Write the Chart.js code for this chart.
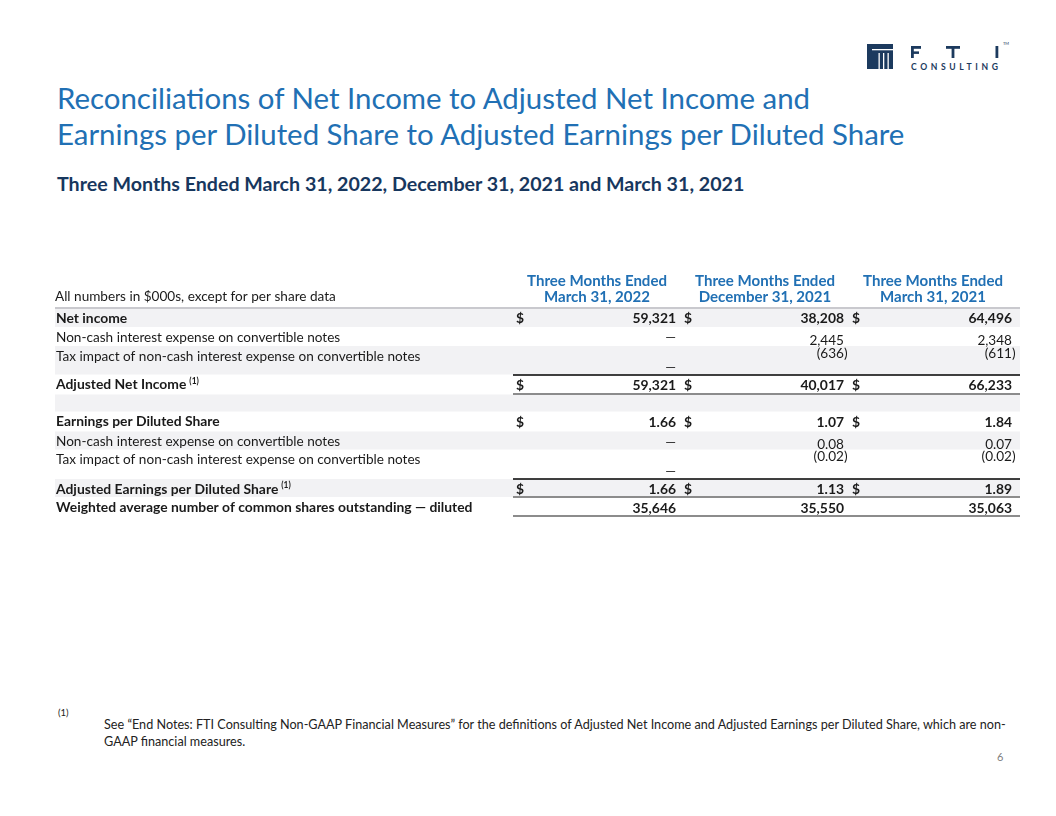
<!DOCTYPE html>
<html>
<head>
<meta charset="utf-8">
<script src="https://cdn.jsdelivr.net/npm/chart.js@4.4.1/dist/chart.umd.min.js"></script>
<style>
  html, body { margin: 0; padding: 0; background: #fff; }
  body { width: 1056px; height: 816px; position: relative; overflow: hidden; font-family: Lato, "Open Sans", sans-serif; }
  .abs { position: absolute; white-space: nowrap; }
  #t1, #t2 { color: #2170b4; }
  #sub { color: #17375e; }
  #fnMark, #fn1, #fn2 { color: #222; transform-origin: 0 50%; }
  #page { color: #808080; }
  #logo { position: absolute; left: 860px; top: 36px; }
  #table { position: absolute; left: 0; top: 265px; }
</style>
</head>
<body>

<svg id="logo" width="160" height="42" viewBox="0 0 160 42">
  <rect x="7" y="8" width="26" height="25" fill="#1c3a5e"/>
  <rect x="12" y="13" width="21" height="1.3" fill="#fff"/>
  <rect x="18.5" y="17" width="1.3" height="16" fill="#fff"/>
  <rect x="23" y="17" width="1.3" height="16" fill="#fff"/>
  <rect x="27.5" y="17" width="1.3" height="16" fill="#fff"/>
  <rect x="51" y="10" width="2.8" height="12" fill="#1c3a5e"/>
  <rect x="51" y="10" width="10" height="2.8" fill="#1c3a5e"/>
  <rect x="51" y="15.4" width="8" height="2.5" fill="#1c3a5e"/>
  <rect x="86" y="10" width="14" height="2.8" fill="#1c3a5e"/>
  <rect x="91.6" y="10" width="2.8" height="12" fill="#1c3a5e"/>
  <rect x="135.5" y="10" width="2.8" height="12" fill="#1c3a5e"/>
  <text x="51" y="34" font-family="Lato, sans-serif" font-weight="700" font-size="8.6" fill="#1c3a5e" textLength="87" lengthAdjust="spacing">CONSULTING</text>
  <text x="143" y="9" font-family="Lato, sans-serif" font-size="4" fill="#1c3a5e">TM</text>
</svg>

<div id="t1" class="abs">Reconciliations of Net Income to Adjusted Net Income and</div>
<div id="t2" class="abs">Earnings per Diluted Share to Adjusted Earnings per Diluted Share</div>
<div id="sub" class="abs">Three Months Ended March 31, 2022, December 31, 2021 and March 31, 2021</div>

<canvas id="table" width="1056" height="260"></canvas>

<div id="fnMark" class="abs">(1)</div>
<div id="fn1" class="abs">See “End Notes: FTI Consulting Non-GAAP Financial Measures” for the definitions of Adjusted Net Income and Adjusted Earnings per Diluted Share, which are non-</div>
<div id="fn2" class="abs">GAAP financial measures.</div>
<div id="page" class="abs">6</div>

<script>
// table data
const rowLabels = [
  "Net income",
  "Non-cash interest expense on convertible notes",
  "Tax impact of non-cash interest expense on convertible notes",
  "Adjusted Net Income",
  "",
  "Earnings per Diluted Share",
  "Non-cash interest expense on convertible notes",
  "Tax impact of non-cash interest expense on convertible notes",
  "Adjusted Earnings per Diluted Share",
  "Weighted average number of common shares outstanding — diluted"
];
const periodHead = ["Three Months Ended", "Three Months Ended", "Three Months Ended"];
const periodDate = ["March 31, 2022", "December 31, 2021", "March 31, 2021"];
const mar2022 = [59321, 0, 0, 59321, null, 1.66, 0, 0, 1.66, 35646];
const dec2021 = [38208, 2445, -636, 40017, null, 1.07, 0.08, -0.02, 1.13, 35550];
const mar2021 = [64496, 2348, -611, 66233, null, 1.84, 0.07, -0.02, 1.89, 35063];
const boldRows = [0, 3, 5, 8, 9];
const dollarRows = [0, 3, 5, 8];
const perShareRows = [5, 6, 7, 8];
const noteRows = [3, 8];
const unitsNote = "All numbers in $000s, except for per share data";

// layout
const FAMILY = 'Lato, "Open Sans", sans-serif';
const INK = "#1a1a1a";
const BLUE = "#2170b4";
const rowSpan = [1, 1, 1.5, 1.05, 0.9, 1.05, 0.95, 1.55, 0.95, 1];
const shadedRows = [0, 2, 4, 6, 8];
const rowTop = [];
let acc = 0;
rowSpan.forEach(s => { rowTop.push(acc); acc += s; });

const UNIT = 19, CANVAS_TOP = 265, CANVAS_H = 260, RULE_Y = 308;
const COL1 = 597, COL_STEP = 168, CANVAS_W = 1056;
const LEFT = 55, RIGHT = 1020;
const yMin = -(RULE_Y - CANVAS_TOP) / UNIT;
const yMax = yMin + CANVAS_H / UNIT;
const xMin = 1 - COL1 / COL_STEP;
const xMax = xMin + CANVAS_W / COL_STEP;

const measure = document.createElement("canvas").getContext("2d");
function fitSize(text, weight, width) {
  measure.font = `${weight} 100px ${FAMILY}`;
  return 100 * width / measure.measureText(text).width;
}
function font(weight, size) {
  return `${weight} ${size}px ${FAMILY}`;
}

const F = {
  body: fitSize(rowLabels[2], 400, 365),
  bold: fitSize(rowLabels[9], 700, 417),
  head: fitSize(periodHead[0], 700, 140)
};

// html text placed by baseline
function place(id, weight, size, left, baseline, width) {
  const el = document.getElementById(id);
  measure.font = font(weight, size);
  const m = measure.measureText(el.textContent);
  const asc = m.fontBoundingBoxAscent, desc = m.fontBoundingBoxDescent;
  el.style.fontSize = size + "px";
  el.style.fontWeight = weight;
  el.style.lineHeight = (asc + desc) + "px";
  el.style.left = left + "px";
  el.style.top = (baseline - asc) + "px";
  if (width) el.style.transform = `scaleX(${width / m.width})`;
}
const titleSize = fitSize(document.getElementById("t2").textContent, 400, 850);
place("t1", 400, titleSize, 57, 109);
place("t2", 400, titleSize, 57, 145);
place("sub", 700, fitSize(document.getElementById("sub").textContent, 700, 688), 57, 191);
// footnote is set condensed, like the slide
place("fn1", 400, 13.6, 104, 729, 904);
const fnScale = 904 / (measure.font = font(400, 13.6), measure.measureText(document.getElementById("fn1").textContent).width);
place("fn2", 400, 13.6, 104, 746);
document.getElementById("fn2").style.transform = `scaleX(${fnScale})`;
place("fnMark", 400, 9.5, 58, 716);
place("page", 400, 11, 997, 761);

function fmt(v, row) {
  if (v === 0) return "—";
  const dec = perShareRows.includes(row) ? 2 : 0;
  const s = Math.abs(v).toLocaleString("en-US", { minimumFractionDigits: dec, maximumFractionDigits: dec });
  return v < 0 ? "(" + s : s;
}

// where a value sits inside its row
function cellOffset(row, v) {
  if (row === 2 || row === 7) return v === 0 ? 1.16 : 0.38;
  if (row === 1 || row === 6) return v === 0 ? 0.58 : 0.7;
  return 0.58;
}

const series = [mar2022, dec2021, mar2021];

const tablePlugin = {
  id: "reconTable",
  beforeDatasetsDraw(chart) {
    const { ctx, scales: { y } } = chart;
    ctx.save();
    ctx.fillStyle = "#f2f2f4";
    shadedRows.forEach(i => {
      const top = y.getPixelForValue(rowTop[i]);
      const bot = y.getPixelForValue(rowTop[i] + rowSpan[i]);
      ctx.fillRect(LEFT, top, RIGHT - LEFT, bot - top);
    });
    ctx.restore();
  },
  afterDatasetsDraw(chart) {
    const { ctx, scales: { x, y } } = chart;
    ctx.save();
    ctx.textBaseline = "middle";

    // column headers
    ctx.fillStyle = BLUE;
    ctx.textAlign = "center";
    ctx.font = font(700, F.head);
    periodDate.forEach((d, k) => {
      const cx = x.getPixelForValue(k + 1);
      ctx.fillText(periodHead[k], cx, y.getPixelForValue(-1.42));
      ctx.fillText(d, cx, y.getPixelForValue(-0.58));
    });
    ctx.fillStyle = INK;
    ctx.textAlign = "left";
    ctx.font = font(400, F.body);
    ctx.fillText(unitsNote, LEFT, y.getPixelForValue(-0.58));

    // row labels
    rowLabels.forEach((lab, i) => {
      if (!lab) return;
      const bold = boldRows.includes(i);
      ctx.font = bold ? font(700, F.bold) : font(400, F.body);
      const ly = y.getPixelForValue(rowTop[i] + 0.55);
      ctx.fillText(lab, LEFT + 1, ly);
      if (noteRows.includes(i)) {
        const w = ctx.measureText(lab).width;
        ctx.font = font(700, F.body * 0.62);
        ctx.fillText("(1)", LEFT + 1 + w + 3, ly - 4);
      }
    });

    // cells
    chart.data.datasets.forEach((ds, d) => {
      chart.getDatasetMeta(d).data.forEach((pt, i) => {
        const v = ds.data[i].v;
        if (v === null) return;
        const bold = boldRows.includes(i);
        ctx.font = bold ? font(700, F.bold) : font(400, F.body);
        const right = pt.x + 79;
        ctx.textAlign = "right";
        ctx.fillText(fmt(v, i), right, pt.y);
        if (v < 0) {
          ctx.textAlign = "left";
          ctx.fillText(")", right, pt.y);
        }
        if (dollarRows.includes(i)) {
          ctx.textAlign = "left";
          ctx.fillText("$", pt.x - 81, y.getPixelForValue(rowTop[i] + 0.58));
        }
      });
    });

    // rules
    function rule(val, from, color, width) {
      const py = Math.round(y.getPixelForValue(val));
      ctx.beginPath();
      ctx.strokeStyle = color;
      ctx.lineWidth = width;
      ctx.moveTo(from, py);
      ctx.lineTo(RIGHT, py);
      ctx.stroke();
    }
    const start = x.getPixelForValue(1) - 84;
    rule(0, LEFT, "#c9c9ce", 2);
    [3, 8].forEach(i => rule(rowTop[i], start, "#000", 1.5));
    [3, 8, 9].forEach(i => rule(rowTop[i] + rowSpan[i], start, "#8c8c8c", 2));
    ctx.restore();
  }
};

new Chart(document.getElementById("table"), {
  type: "scatter",
  data: {
    datasets: series.map((vals, k) => ({
      label: periodDate[k],
      data: vals.map((v, i) => ({ x: k + 1, y: rowTop[i] + cellOffset(i, v), v })),
      pointRadius: 0,
      pointHoverRadius: 0
    }))
  },
  options: {
    responsive: false,
    animation: false,
    devicePixelRatio: 1,
    events: [],
    layout: { padding: 0 },
    plugins: { legend: { display: false }, tooltip: { enabled: false } },
    scales: {
      x: { type: "linear", display: false, min: xMin, max: xMax },
      y: { type: "linear", display: false, reverse: true, min: yMin, max: yMax }
    }
  },
  plugins: [tablePlugin]
});
</script>
</body>
</html>
